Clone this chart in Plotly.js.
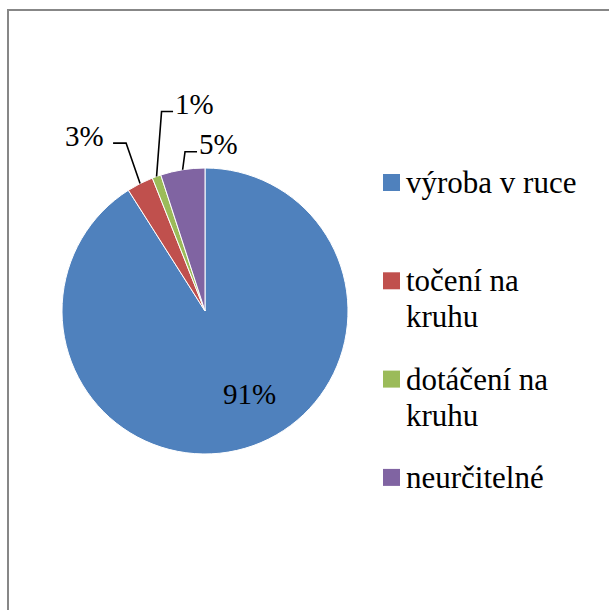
<!DOCTYPE html>
<html><head><meta charset="utf-8">
<script src="https://cdn.plot.ly/plotly-3.0.1.min.js"></script>
<style>
html,body{margin:0;padding:0;background:#fff;overflow:hidden;font-family:'Liberation Serif',serif}
#chart{position:absolute;left:0;top:0;width:609px;height:610px}
#chart text{font-family:'Liberation Serif','Times New Roman',serif !important}
#frame{position:absolute;left:7px;top:9px;width:900px;height:900px;border:2px solid #878787;box-sizing:border-box;pointer-events:none}
</style></head><body>
<div id="chart"></div>
<div id="frame"></div>
<script>
// ---- data ----
const categories = ['výroba v ruce', 'točení na kruhu', 'dotáčení na kruhu', 'neurčitelné'];
const values = [91, 3, 1, 5];
const legendLines = [['výroba v ruce'], ['točení na', 'kruhu'], ['dotáčení na', 'kruhu'], ['neurčitelné']];
const colors = ['#4F81BD', '#C0504D', '#9BBB59', '#8064A2'];

// ---- layout / style ----
const W = 609, H = 610;
const CX = 205, CY = 311, R = 143;
const FONT = 'Liberation Serif';
const labelSize = 29, legendSize = 31;
const labelStyle = [
  {inside: true, dx: 44.7, dy: 83},
  {elbow: [-14, -40.5], tail: -13, gap: 7},
  {elbow: [5, -65], tail: 11.5, gap: 0},
  {elbow: [2.4, -18], tail: 12, gap: 0}
];
const toPx = x => x / W;
const toPy = y => 1 - y / H;

const total = values.reduce((a, b) => a + b, 0);
const pctText = values.map(v => Math.round(v / total * 100) + '%');

const annotations = [];
const shapes = [];
let cum = 0;
values.forEach((v, i) => {
  const mid = (cum + v / 2) / total;
  cum += v;
  const th = 2 * Math.PI * mid;
  const st = labelStyle[i];
  if (st.inside) {
    annotations.push({xref: 'paper', yref: 'paper', x: toPx(CX + st.dx), y: toPy(CY + st.dy),
      xanchor: 'center', yanchor: 'middle', showarrow: false, text: pctText[i],
      font: {family: FONT, size: labelSize, color: '#000'}});
    return;
  }
  const ex = CX + R * Math.sin(th), ey = CY - R * Math.cos(th);
  const bx = ex + st.elbow[0], by = ey + st.elbow[1];
  const tx = bx + st.tail, ty = by;
  shapes.push({type: 'path', xref: 'paper', yref: 'paper',
    path: `M ${toPx(ex)},${toPy(ey)} L ${toPx(bx)},${toPy(by)} L ${toPx(tx)},${toPy(ty)}`,
    line: {color: '#000', width: 1.6}});
  const left = st.tail < 0;
  annotations.push({xref: 'paper', yref: 'paper',
    x: toPx(tx + (left ? -st.gap : st.gap)), y: toPy(ty - 7.5),
    xanchor: left ? 'right' : 'left', yanchor: 'middle', showarrow: false, text: pctText[i],
    font: {family: FONT, size: labelSize, color: '#000'}});
});

// legend (built from categories / colours)
const legX0 = 383, legSq = 17, legTop = 182.5, legStep = 98.3, legLine = 36, legTextX = 404;
categories.forEach((c, i) => {
  const cy = legTop + i * legStep;
  shapes.push({type: 'rect', xref: 'paper', yref: 'paper',
    x0: toPx(legX0), x1: toPx(legX0 + legSq), y0: toPy(cy - legSq / 2), y1: toPy(cy + legSq / 2),
    fillcolor: colors[i], line: {width: 0}});
  legendLines[i].forEach((t, j) => {
    annotations.push({xref: 'paper', yref: 'paper', x: toPx(legTextX), y: toPy(cy + j * legLine),
      xanchor: 'left', yanchor: 'middle', showarrow: false, text: t,
      font: {family: FONT, size: legendSize, color: '#000'}});
  });
});

const trace = {
  type: 'pie', values: values, labels: categories, sort: false,
  direction: 'clockwise', rotation: 0, textinfo: 'none', hoverinfo: 'label+percent',
  marker: {colors: colors, line: {color: '#ffffff', width: 1}},
  domain: {x: [(CX - R) / W, (CX + R) / W], y: [1 - (CY + R) / H, 1 - (CY - R) / H]},
  showlegend: false
};

const layout = {
  width: W, height: H, margin: {l: 0, r: 0, t: 0, b: 0},
  paper_bgcolor: '#fff', showlegend: false,
  font: {family: FONT, color: '#000'},
  annotations: annotations, shapes: shapes
};
function draw() {
  return Plotly.newPlot('chart', [trace], JSON.parse(JSON.stringify(layout)), {displayModeBar: false});
}
draw();
setTimeout(draw, 300);
</script>
</body></html>
